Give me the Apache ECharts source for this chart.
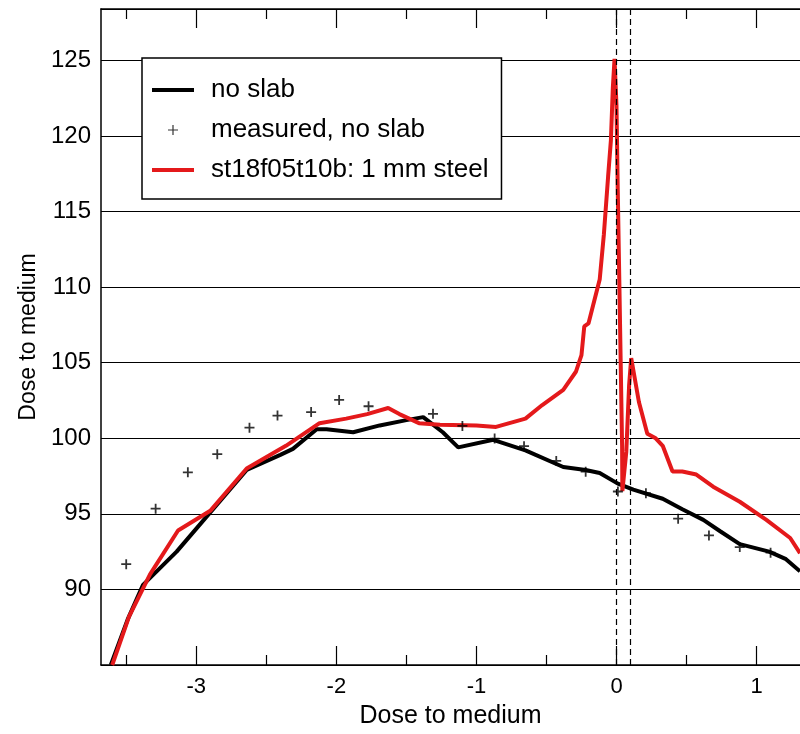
<!DOCTYPE html>
<html>
<head>
<meta charset="utf-8">
<script src="https://cdn.jsdelivr.net/npm/echarts@6/dist/echarts.min.js"></script>
<style>
  html, body { margin: 0; padding: 0; background: #fff; }
  #chart { width: 800px; height: 734px; }
</style>
</head>
<body>
<div id="chart"></div>
<script>
// dose profiles, [position, dose]
const noSlab = [
  [-3.61, 85.0], [-3.49, 88.0], [-3.38, 90.3], [-3.14, 92.5], [-2.90, 95.1],
  [-2.64, 97.9], [-2.40, 98.9], [-2.31, 99.3], [-2.14, 100.6], [-2.07, 100.6],
  [-1.88, 100.4], [-1.69, 100.85], [-1.50, 101.2], [-1.38, 101.4], [-1.31, 100.9],
  [-1.24, 100.4], [-1.13, 99.4], [-0.88, 99.9], [-0.65, 99.2], [-0.38, 98.1],
  [-0.22, 97.9], [-0.12, 97.7], [0.01, 97.0], [0.12, 96.6], [0.33, 96.0],
  [0.47, 95.3], [0.62, 94.6], [0.74, 93.85], [0.88, 93.0], [1.09, 92.5],
  [1.21, 92.0], [1.31, 91.2]
]
const measured = [
  [-3.50, 91.67], [-3.29, 95.34], [-3.06, 97.75], [-2.85, 98.95], [-2.62, 100.7],
  [-2.42, 101.5], [-2.18, 101.73], [-1.98, 102.54], [-1.77, 102.12], [-1.31, 101.62],
  [-1.10, 100.82], [-0.87, 99.98], [-0.66, 99.48], [-0.43, 98.5], [-0.22, 97.79],
  [0.01, 96.48], [0.21, 96.37], [0.44, 94.68], [0.66, 93.57], [0.88, 92.8],
  [1.10, 92.43]
]
const steel = [
  [-3.60, 85.0], [-3.48, 88.2], [-3.33, 91.0], [-3.13, 93.9], [-2.90, 95.2],
  [-2.64, 98.0], [-2.36, 99.5], [-2.12, 101.0], [-1.93, 101.3], [-1.78, 101.6],
  [-1.63, 102.0], [-1.55, 101.6], [-1.41, 101.0], [-1.26, 100.9], [-1.00, 100.85],
  [-0.86, 100.75], [-0.65, 101.3], [-0.53, 102.2], [-0.38, 103.2], [-0.29, 104.4],
  [-0.25, 105.5], [-0.23, 107.4], [-0.20, 107.6], [-0.12, 110.5], [-0.09, 113.5],
  [-0.06, 117.3], [-0.04, 119.7], [-0.026, 123.2], [-0.014, 125.1], [0.0, 122.0],
  [0.009, 116.4], [0.02, 110.5], [0.03, 105.0], [0.04, 99.5], [0.042, 96.5],
  [0.07, 99.1], [0.09, 103.5], [0.105, 105.3], [0.16, 102.4], [0.22, 100.3],
  [0.28, 100.0], [0.33, 99.5], [0.40, 97.8], [0.47, 97.8], [0.57, 97.6],
  [0.69, 96.8], [0.88, 95.8], [1.07, 94.6], [1.24, 93.4], [1.31, 92.4]
]
const slabEdges = [0, 0.1]
const majorTicks = [-3, -2, -1, 0, 1]
const minorTicks = [-3.5, -2.5, -1.5, -0.5, 0.5]
const seriesNames = ['no slab', 'measured, no slab', 'st18f05t10b: 1 mm steel']

const font = 'Liberation Sans, Arial, Helvetica, sans-serif'
// plus sign, with invisible moveTo corners so its size is kept
const plus = 'path://M0,0M20,20M9.1,5h1.8v4.1h4.1v1.8h-4.1v4.1h-1.8v-4.1h-4.1v-1.8h4.1z'
const plusIcon = 'path://M0,0M14,14M6.4,2h1.2v4.4h4.4v1.2h-4.4v4.4h-1.2v-4.4h-4.4v-1.2h4.4z'
const lineIcon = 'path://M0,0M42,14M0,5h42v4h-42z'

const xRange = { min: -3.68, max: 1.31 }
const tickAxis = (position, values, length, showLine) => ({
  type: 'value', position, ...xRange,
  axisLine: { show: showLine, onZero: false, lineStyle: { color: '#000', width: 1.5 } },
  axisTick: { show: true, inside: true, length, customValues: values, lineStyle: { color: '#000', width: 1.2 } },
  axisLabel: { show: false },
  splitLine: { show: false }
})

const chart = echarts.init(document.getElementById('chart'))
chart.setOption({
  animation: false,
  backgroundColor: '#fff',
  textStyle: { fontFamily: font },
  grid: { left: 101, top: 9, right: 0, bottom: 64, containLabel: false },
  legend: {
    orient: 'vertical',
    left: 142, top: 58,
    data: [
      { name: seriesNames[0], icon: lineIcon },
      { name: seriesNames[1], icon: plusIcon },
      { name: seriesNames[2], icon: lineIcon }
    ],
    backgroundColor: '#fff',
    borderColor: '#000',
    borderWidth: 1.5,
    borderRadius: 0,
    padding: [19, 13, 16, 10],
    itemGap: 14,
    itemWidth: 42,
    itemHeight: 14,
    textStyle: { fontSize: 26, color: '#000', fontFamily: font, lineHeight: 26, padding: [0, 0, 0, 12] }
  },
  xAxis: [
    {
      type: 'value', position: 'bottom', ...xRange,
      name: 'Dose to medium', nameLocation: 'middle', nameGap: 39,
      nameTextStyle: { fontSize: 25, color: '#000', fontFamily: font },
      axisLine: { show: true, onZero: false, lineStyle: { color: '#000', width: 1.5 } },
      axisTick: { show: true, inside: true, length: 19, customValues: majorTicks, lineStyle: { color: '#000', width: 1.2 } },
      axisLabel: { show: true, customValues: majorTicks, fontSize: 22, color: '#000', margin: 11, fontFamily: font },
      splitLine: { show: false }
    },
    tickAxis('bottom', minorTicks, 10, false),
    tickAxis('top', majorTicks, 19, true),
    tickAxis('top', minorTicks, 10, false)
  ],
  yAxis: {
    type: 'value', min: 85, max: 128.4, interval: 5,
    name: 'Dose to medium', nameLocation: 'middle', nameGap: 55,
    nameTextStyle: { fontSize: 23, color: '#000', fontFamily: font },
    axisLine: { show: true, onZero: false, lineStyle: { color: '#000', width: 1.5 } },
    axisTick: { show: false },
    axisLabel: { fontSize: 24, color: '#000', margin: 10, fontFamily: font, showMinLabel: false, showMaxLabel: false },
    splitLine: { show: true, lineStyle: { color: '#000', width: 1.2 } }
  },
  series: [
    {
      name: seriesNames[0], type: 'line', data: noSlab, xAxisIndex: 0,
      symbol: 'none', z: 3,
      lineStyle: { color: '#000', width: 4 }, itemStyle: { color: '#000' },
      markLine: {
        silent: true, symbol: 'none', label: { show: false },
        lineStyle: { color: '#000', width: 1.2, type: [6, 4] },
        data: slabEdges.map(v => ({ xAxis: v }))
      }
    },
    {
      name: seriesNames[1], type: 'scatter', data: measured, xAxisIndex: 0,
      symbol: plus, symbolSize: 20, symbolKeepAspect: true, z: 5,
      itemStyle: { color: '#000' }
    },
    {
      name: seriesNames[2], type: 'line', data: steel, xAxisIndex: 0,
      symbol: 'none', z: 4,
      lineStyle: { color: '#e4191b', width: 4 }, itemStyle: { color: '#e4191b' }
    }
  ]
})
</script>
</body>
</html>
